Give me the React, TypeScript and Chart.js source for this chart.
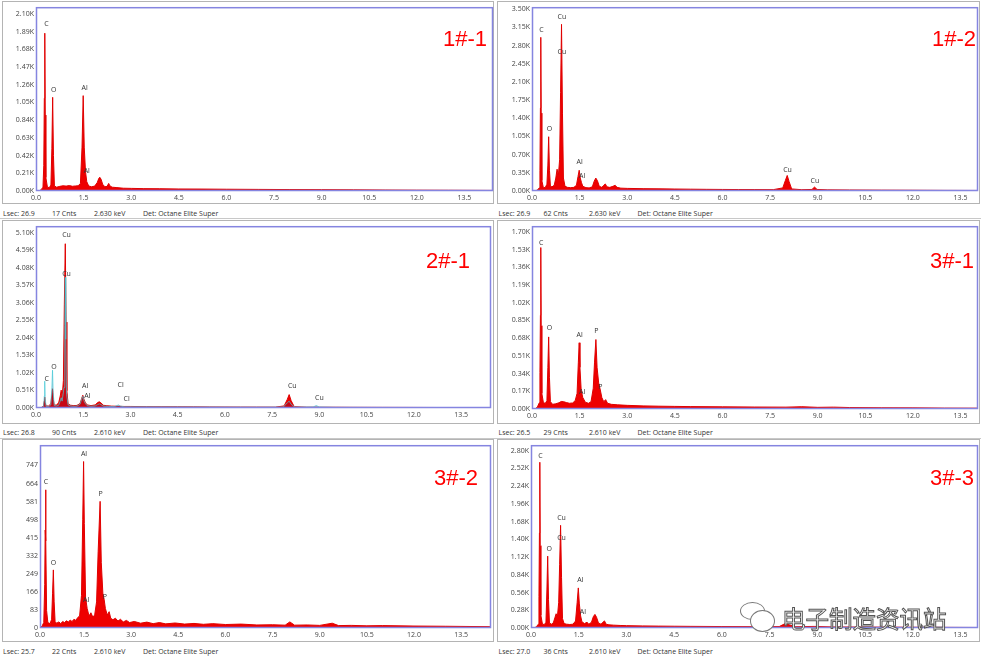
import React, { useEffect, useRef } from "react";
import { Chart, registerables } from "chart.js";
Chart.register(...registerables);

type Pt = [number, number];
type Lbl = [string, number, number];

// ---------- data ----------
const X_TICKS = [0, 1.5, 3.0, 4.5, 6.0, 7.5, 9.0, 10.5, 12.0, 13.5];

const p1YTicks = [0, 210, 420, 630, 840, 1050, 1260, 1470, 1680, 1890, 2100];
const p2YTicks = [0, 350, 700, 1050, 1400, 1750, 2100, 2450, 2800, 3150, 3500];
const p3YTicks = [0, 510, 1020, 1530, 2040, 2550, 3060, 3570, 4080, 4590, 5100];
const p4YTicks = [0, 170, 340, 510, 680, 850, 1020, 1190, 1360, 1530, 1700];
const p5YTicks = [0, 83, 166, 249, 332, 415, 498, 581, 664, 747];
const p6YTicks = [0, 280, 560, 840, 1120, 1400, 1680, 1960, 2240, 2520, 2800];

// spectrum outlines: [keV, counts]
const p1Spectrum: Pt[] = [[0.10,0],[0.16,15],[0.22,45],[0.245,300],[0.262,1100],[0.277,1870],[0.292,900],[0.31,160],[0.36,45],[0.42,40],[0.47,70],[0.50,500],[0.525,1110],[0.55,420],[0.58,60],[0.65,45],[0.75,55],[0.85,62],[0.95,58],[1.05,64],[1.15,56],[1.25,60],[1.33,62],[1.40,90],[1.45,520],[1.487,1130],[1.52,520],[1.56,230],[1.60,110],[1.66,60],[1.75,50],[1.85,58],[1.93,100],[1.98,150],[2.01,163],[2.05,140],[2.10,80],[2.17,50],[2.24,55],[2.29,90],[2.33,60],[2.40,45],[2.55,40],[2.75,33],[3.0,31],[3.4,28],[3.9,27],[4.5,24],[5.2,23],[6.0,21],[7.0,19],[8.0,17],[9.0,16],[10.0,14],[11.0,12],[12.0,10],[13.0,9],[14.4,7]];
const p2Spectrum: Pt[] = [[0.10,0],[0.17,20],[0.23,60],[0.25,400],[0.265,1600],[0.277,2960],[0.29,1500],[0.31,200],[0.36,60],[0.42,70],[0.47,130],[0.50,500],[0.525,1045],[0.55,400],[0.58,90],[0.63,80],[0.70,110],[0.75,250],[0.79,420],[0.83,300],[0.87,600],[0.90,1900],[0.93,3210],[0.96,1500],[0.99,250],[1.04,90],[1.12,70],[1.22,65],[1.32,70],[1.40,110],[1.45,280],[1.487,400],[1.52,250],[1.56,160],[1.60,90],[1.70,65],[1.80,60],[1.90,80],[1.96,190],[2.01,249],[2.06,200],[2.12,90],[2.20,70],[2.26,110],[2.31,136],[2.36,80],[2.45,70],[2.55,90],[2.62,110],[2.68,70],[2.8,55],[3.0,50],[3.5,45],[4.0,42],[4.5,38],[5.0,35],[5.5,32],[6.0,30],[6.5,28],[7.0,27],[7.6,26],[7.9,60],[7.98,200],[8.04,300],[8.10,180],[8.18,40],[8.5,25],[8.82,30],[8.9,75],[8.98,30],[9.3,22],[10.0,20],[11.0,17],[12.0,15],[13.0,12],[14.05,10]];
const p3Spectrum: Pt[] = [[0.10,0],[0.18,20],[0.24,60],[0.262,200],[0.277,320],[0.292,150],[0.32,60],[0.40,60],[0.47,120],[0.50,350],[0.525,560],[0.55,250],[0.58,80],[0.65,90],[0.72,150],[0.77,350],[0.80,520],[0.83,300],[0.87,800],[0.90,3000],[0.93,4780],[0.955,2500],[0.98,500],[1.02,120],[1.10,80],[1.20,70],[1.30,75],[1.40,130],[1.45,280],[1.487,370],[1.52,260],[1.56,170],[1.62,90],[1.75,70],[1.88,90],[1.96,160],[2.01,180],[2.06,150],[2.14,80],[2.25,65],[2.4,55],[2.6,50],[2.8,45],[3.0,45],[3.5,40],[4.0,38],[4.5,36],[5.0,34],[5.5,32],[6.0,30],[6.5,28],[7.0,27],[7.6,26],[7.88,60],[7.98,250],[8.04,390],[8.10,220],[8.2,40],[8.6,25],[9.0,24],[9.5,22],[10.0,20],[11.0,18],[12.0,16],[13.0,14],[14.45,12]];
const p3Overlay: Pt[] = [[0.10,0],[0.18,15],[0.24,50],[0.265,350],[0.277,780],[0.289,300],[0.32,50],[0.40,45],[0.47,90],[0.505,600],[0.525,1100],[0.545,450],[0.58,70],[0.65,60],[0.72,80],[0.77,200],[0.80,300],[0.83,200],[0.89,600],[0.915,2400],[0.93,3800],[0.945,2000],[0.97,400],[1.02,90],[1.10,60],[1.2,50],[1.3,55],[1.40,110],[1.45,260],[1.487,340],[1.52,220],[1.56,140],[1.62,70],[1.75,50],[1.88,60],[1.96,100],[2.01,120],[2.06,100],[2.14,55],[2.3,45],[2.5,45],[2.57,70],[2.62,90],[2.67,60],[2.8,35],[3.0,33],[4.0,30],[5.0,27],[6.0,24],[7.0,22],[7.85,25],[7.98,150],[8.04,200],[8.10,110],[8.22,25],[8.8,30],[8.9,70],[9.0,30],[9.5,18],[11.0,15],[13.0,12],[14.45,10]];
const p4Spectrum: Pt[] = [[0.10,0],[0.17,20],[0.23,60],[0.25,350],[0.265,900],[0.277,1550],[0.29,800],[0.31,150],[0.36,60],[0.42,55],[0.47,80],[0.50,400],[0.525,692],[0.55,300],[0.58,70],[0.65,45],[0.75,50],[0.85,60],[0.92,72],[1.0,70],[1.08,62],[1.18,55],[1.28,58],[1.36,80],[1.42,150],[1.46,450],[1.487,636],[1.51,400],[1.55,180],[1.60,110],[1.68,65],[1.78,55],[1.86,70],[1.93,200],[1.97,450],[2.013,667],[2.05,400],[2.10,250],[2.14,200],[2.20,110],[2.26,70],[2.32,90],[2.38,55],[2.5,45],[2.7,40],[3.0,35],[3.5,30],[4.0,27],[4.5,25],[5.0,23],[6.0,21],[7.0,19],[8.0,18],[8.5,22],[9.0,16],[9.5,18],[10.0,14],[11.0,12],[12.0,11],[13.0,9],[14.05,8]];
const p5Spectrum: Pt[] = [[0.10,0],[0.17,10],[0.22,25],[0.25,200],[0.265,450],[0.277,635],[0.29,400],[0.31,80],[0.35,25],[0.42,20],[0.47,40],[0.50,160],[0.525,267],[0.55,120],[0.58,30],[0.63,22],[0.70,28],[0.76,20],[0.82,30],[0.88,25],[0.94,33],[1.0,28],[1.06,36],[1.12,30],[1.18,40],[1.24,35],[1.30,48],[1.36,55],[1.42,150],[1.46,500],[1.487,765],[1.51,480],[1.55,140],[1.60,90],[1.66,55],[1.72,70],[1.78,50],[1.84,60],[1.90,120],[1.95,350],[2.013,582],[2.05,300],[2.10,160],[2.14,132],[2.18,90],[2.24,60],[2.30,75],[2.35,45],[2.42,38],[2.50,45],[2.58,32],[2.66,40],[2.75,28],[2.85,35],[2.95,25],[3.1,30],[3.3,22],[3.5,27],[3.7,20],[3.9,25],[4.1,19],[4.4,23],[4.7,18],[5.0,21],[5.3,17],[5.6,20],[6.0,16],[6.5,18],[7.0,14],[7.5,15],[7.9,13],[8.05,28],[8.2,13],[8.6,14],[9.0,12],[9.4,22],[9.6,11],[10.0,12],[10.5,10],[11.0,11],[12.0,9],[13.0,8],[14.45,6]];
const p6Spectrum: Pt[] = [[0.10,0],[0.17,20],[0.23,60],[0.25,500],[0.265,1500],[0.277,2616],[0.29,1300],[0.31,200],[0.36,60],[0.42,55],[0.47,90],[0.50,600],[0.525,1134],[0.55,450],[0.58,80],[0.64,60],[0.70,80],[0.75,160],[0.79,225],[0.83,180],[0.87,400],[0.90,1000],[0.93,1620],[0.96,800],[0.99,150],[1.04,70],[1.12,60],[1.22,55],[1.32,60],[1.40,110],[1.45,400],[1.487,633],[1.52,380],[1.56,190],[1.60,100],[1.68,70],[1.76,90],[1.82,60],[1.90,90],[1.96,180],[2.01,215],[2.06,170],[2.12,80],[2.20,60],[2.26,90],[2.31,112],[2.36,60],[2.45,50],[2.6,45],[2.8,40],[3.0,37],[3.5,33],[4.0,30],[4.5,28],[5.0,26],[6.0,23],[7.0,21],[7.8,22],[7.95,60],[8.04,80],[8.12,50],[8.3,20],[8.9,25],[9.5,17],[10.0,16],[11.0,14],[12.0,12],[13.0,10],[14.05,8]];

// element labels: [text, keV, counts]
const p1Labels: Lbl[] = [["C",0.33,1984],["O",0.56,1202],["Al",1.53,1220],["Al",1.60,237]];
const p2Labels: Lbl[] = [["C",0.30,3100],["Cu",0.94,3350],["Cu",0.94,2680],["O",0.55,1190],["Al",1.50,550],["Al",1.58,292],["Cu",8.05,405],["Cu",8.91,198]];
const p3Labels: Lbl[] = [["Cu",0.97,5034],["Cu",0.97,3905],["O",0.57,1203],["C",0.34,845],["Al",1.56,634],["Al",1.63,341],["Cl",2.69,683],["Cl",2.88,276],["Cu",8.14,634],["Cu",9.0,293]];
const p4Labels: Lbl[] = [["C",0.29,1590],["O",0.55,776],["Al",1.50,708],["P",2.03,748],["Al",1.58,162],["P",2.15,209]];
const p5Labels: Lbl[] = [["Al",1.50,800],["C",0.29,669],["P",2.03,615],["O",0.53,297],["Al",1.57,129],["P",2.16,144]];
const p6Labels: Lbl[] = [["C",0.30,2717],["Cu",0.96,1736],["Cu",0.96,1425],["O",0.57,1246],["Al",1.55,751],["Al",1.63,256]];

const p1Footer = ["Lsec: 26.9", "17 Cnts", "2.630 keV", "Det: Octane Elite Super"];
const p2Footer = ["Lsec: 26.9", "62 Cnts", "2.630 keV", "Det: Octane Elite Super"];
const p3Footer = ["Lsec: 26.8", "90 Cnts", "2.610 keV", "Det: Octane Elite Super"];
const p4Footer = ["Lsec: 26.5", "29 Cnts", "2.610 keV", "Det: Octane Elite Super"];
const p5Footer = ["Lsec: 25.7", "22 Cnts", "2.610 keV", "Det: Octane Elite Super"];
const p6Footer = ["Lsec: 27.0", "36 Cnts", "2.610 keV", "Det: Octane Elite Super"];

const sampleNames = ["1#-1", "1#-2", "2#-1", "3#-1", "3#-2", "3#-3"];
const watermarkText = "电子制造资讯站";

// ---------- layout ----------
type PanelCfg = {
  name: string;
  plot: { l: number; t: number; r: number; b: number };
  xMin: number; xMax: number; yMax: number;
  yTicks: number[]; kFmt: boolean;
  spectrum: Pt[]; overlay?: Pt[]; labels: Lbl[];
  footer: string[]; col: number; row: number;
};

const PANELS: PanelCfg[] = [
  { name: sampleNames[0], plot: { l: 36, t: 3, r: 493, b: 191 }, xMin: 0, xMax: 14.4, yMax: 2178, yTicks: p1YTicks, kFmt: true, spectrum: p1Spectrum, labels: p1Labels, footer: p1Footer, col: 0, row: 0 },
  { name: sampleNames[1], plot: { l: 532, t: 3, r: 978, b: 191 }, xMin: 0, xMax: 14.05, yMax: 3540, yTicks: p2YTicks, kFmt: true, spectrum: p2Spectrum, labels: p2Labels, footer: p2Footer, col: 1, row: 0 },
  { name: sampleNames[2], plot: { l: 36, t: 222, r: 491, b: 408 }, xMin: 0, xMax: 14.45, yMax: 5290, yTicks: p3YTicks, kFmt: true, spectrum: p3Spectrum, overlay: p3Overlay, labels: p3Labels, footer: p3Footer, col: 0, row: 1 },
  { name: sampleNames[3], plot: { l: 532, t: 222, r: 978, b: 409 }, xMin: 0, xMax: 14.05, yMax: 1755, yTicks: p4YTicks, kFmt: true, spectrum: p4Spectrum, labels: p4Labels, footer: p4Footer, col: 1, row: 1 },
  { name: sampleNames[4], plot: { l: 40, t: 441, r: 491, b: 628 }, xMin: 0.1, xMax: 14.45, yMax: 840, yTicks: p5YTicks, kFmt: false, spectrum: p5Spectrum, labels: p5Labels, footer: p5Footer, col: 0, row: 2 },
  { name: sampleNames[5], plot: { l: 531, t: 441, r: 978, b: 628 }, xMin: 0, xMax: 14.05, yMax: 2885, yTicks: p6YTicks, kFmt: true, spectrum: p6Spectrum, labels: p6Labels, footer: p6Footer, col: 1, row: 2 },
];

const Y_AXIS_W = 34;
const X_AXIS_H = 12;
const PAD_T = 2;
const PAD_R = 2;
const SMALL_FONT = { family: '"Open Sans", "DejaVu Sans", sans-serif', size: 7 };

function SpectrumPanel({ cfg }: { cfg: PanelCfg }) {
  const ref = useRef<HTMLCanvasElement>(null);
  const w = cfg.plot.r - cfg.plot.l + Y_AXIS_W + PAD_R;
  const h = cfg.plot.b - cfg.plot.t + PAD_T + X_AXIS_H;
  useEffect(() => {
    let chart: Chart | null = null;
    let dead = false;
    const make = () => {
      if (dead || !ref.current) return;
      const datasets: any[] = [
        {
          data: cfg.spectrum.map(([x, y]) => ({ x, y })),
          borderColor: "#e00000",
          backgroundColor: "#ee0000",
          borderWidth: 1,
          fill: "origin",
          pointRadius: 0,
          tension: 0,
          order: 1,
        },
      ];
      if (cfg.overlay) {
        datasets.push({
          data: cfg.overlay.map(([x, y]) => ({ x, y })),
          borderColor: "rgba(70,200,215,0.9)",
          backgroundColor: "rgba(40,30,110,0.2)",
          borderWidth: 0.8,
          fill: "origin",
          pointRadius: 0,
          tension: 0,
          order: 0,
        });
      }
      const labelPlugin = {
        id: "peakLabels",
        afterDatasetsDraw(c: any) {
          const { ctx, scales } = c;
          ctx.save();
          ctx.font = '7px "Open Sans", "DejaVu Sans", sans-serif';
          ctx.fillStyle = "#333";
          ctx.textAlign = "center";
          ctx.textBaseline = "middle";
          for (const [t, k, v] of cfg.labels) {
            ctx.fillText(t, scales.x.getPixelForValue(k), scales.y.getPixelForValue(v));
          }
          ctx.restore();
        },
      };
      const framePlugin = {
        id: "frame",
        afterDraw(c: any) {
          const { ctx, chartArea: a } = c;
          ctx.save();
          ctx.strokeStyle = "#8585e0";
          ctx.lineWidth = 1.5;
          ctx.strokeRect(a.left + 0.5, a.top + 0.5, a.right - a.left - 1, a.bottom - a.top - 1);
          ctx.restore();
        },
      };
      chart = new Chart(ref.current, {
        type: "line",
        data: { datasets },
        plugins: [labelPlugin, framePlugin],
        options: {
          responsive: false,
          animation: false,
          maintainAspectRatio: false,
          layout: { padding: { top: PAD_T, right: PAD_R, left: 0, bottom: 0 } },
          plugins: { legend: { display: false }, tooltip: { enabled: false } },
          scales: {
            x: {
              type: "linear",
              min: cfg.xMin,
              max: cfg.xMax,
              grid: { display: false, drawTicks: false },
              border: { display: false },
              ticks: {
                font: SMALL_FONT,
                color: "#444",
                padding: 3,
                maxRotation: 0,
                autoSkip: false,
                callback: (v: any) => (Number(v) < 0.5 ? 0 : Number(v)).toFixed(1),
              },
              afterBuildTicks: (s: any) => {
                s.ticks = X_TICKS.filter((t) => t <= cfg.xMax).map((t) => ({ value: Math.max(t, cfg.xMin) }));
              },
              afterFit: (s: any) => {
                s.height = X_AXIS_H;
              },
            },
            y: {
              type: "linear",
              min: 0,
              max: cfg.yMax,
              grid: { display: false, drawTicks: false },
              border: { display: false },
              ticks: {
                font: SMALL_FONT,
                color: "#444",
                padding: 2,
                autoSkip: false,
                callback: (v: any) => (cfg.kFmt ? (Number(v) / 1000).toFixed(2) + "K" : String(v)),
              },
              afterBuildTicks: (s: any) => {
                s.ticks = cfg.yTicks.map((t) => ({ value: t }));
              },
              afterFit: (s: any) => {
                s.width = Y_AXIS_W;
              },
            },
          },
        },
      } as any);
    };
    const fonts: any = (document as any).fonts;
    if (fonts && fonts.load) {
      Promise.all([fonts.load('7px "Open Sans"')]).then(make, make);
    } else make();
    return () => {
      dead = true;
      if (chart) chart.destroy();
    };
  }, []);
  return (
    <canvas
      ref={ref}
      width={w}
      height={h}
      style={{ position: "absolute", left: cfg.plot.l - Y_AXIS_W, top: cfg.plot.t - PAD_T, width: w, height: h }}
    />
  );
}

const COL_X = [2, 497];
const COL_W = [492, 483];
const ROW_TOP = [1, 220, 439];
const ROW_BOTTOM = [204, 424, 642];
const FOOTER_Y = [213, 432, 651.5];
const FOOTER_DX = [[1, 50, 92, 141], [1.5, 46.5, 92, 140.5]];
const NAME_POS: [number, number][] = [[443, 27.5], [932, 27.5], [426, 249.5], [930, 249.5], [434, 467], [930, 467]];

export default function App() {
  return (
    <div style={{ position: "absolute", left: 0, top: 0, width: 981, height: 663, background: "#fff", overflow: "hidden", fontFamily: '"Open Sans", sans-serif' }}>
      {PANELS.map((p, i) => (
        <div
          key={"box" + i}
          style={{
            position: "absolute",
            left: COL_X[p.col],
            top: ROW_TOP[p.row],
            width: COL_W[p.col],
            height: ROW_BOTTOM[p.row] - ROW_TOP[p.row],
            border: "1px solid #b4b4b4",
            boxSizing: "border-box",
          }}
        />
      ))}
      {[218, 437.5].map((y, i) => (
        <div key={"hl" + i} style={{ position: "absolute", left: 0, top: y, width: 981, height: 1, background: "#c8c8c8" }} />
      ))}
      {PANELS.map((p, i) => (
        <SpectrumPanel key={"c" + i} cfg={p} />
      ))}
      {PANELS.map((p, i) =>
        p.footer.map((t, j) => (
          <div
            key={"f" + i + "-" + j}
            style={{
              position: "absolute",
              left: COL_X[p.col] + FOOTER_DX[p.col][j],
              top: FOOTER_Y[p.row] - 4.5,
              fontSize: 7,
              lineHeight: "9px",
              color: "#333",
              whiteSpace: "nowrap",
            }}
          >
            {t}
          </div>
        ))
      )}
      {PANELS.map((p, i) => (
        <div
          key={"n" + i}
          style={{
            position: "absolute",
            left: NAME_POS[i][0],
            top: NAME_POS[i][1],
            fontFamily: '"Liberation Sans", Arial, sans-serif',
            fontSize: 22,
            lineHeight: "22px",
            color: "#ff0000",
            whiteSpace: "nowrap",
          }}
        >
          {p.name}
        </div>
      ))}
      <div style={{ position: "absolute", left: 740, top: 602, width: 23, height: 16, borderRadius: "50%", border: "1.2px solid #777", background: "#fff" }} />
      <div style={{ position: "absolute", left: 750, top: 610, width: 23, height: 20, borderRadius: "50%", border: "1.2px solid #777", background: "#fff" }} />
      <div
        style={{
          position: "absolute",
          left: 782,
          top: 603,
          fontFamily: '"Noto Sans CJK SC", sans-serif',
          fontSize: 23.5,
          lineHeight: "30px",
          color: "#fff",
          WebkitTextStroke: "1px #555",
          whiteSpace: "nowrap",
        }}
      >
        {watermarkText}
      </div>
    </div>
  );
}
